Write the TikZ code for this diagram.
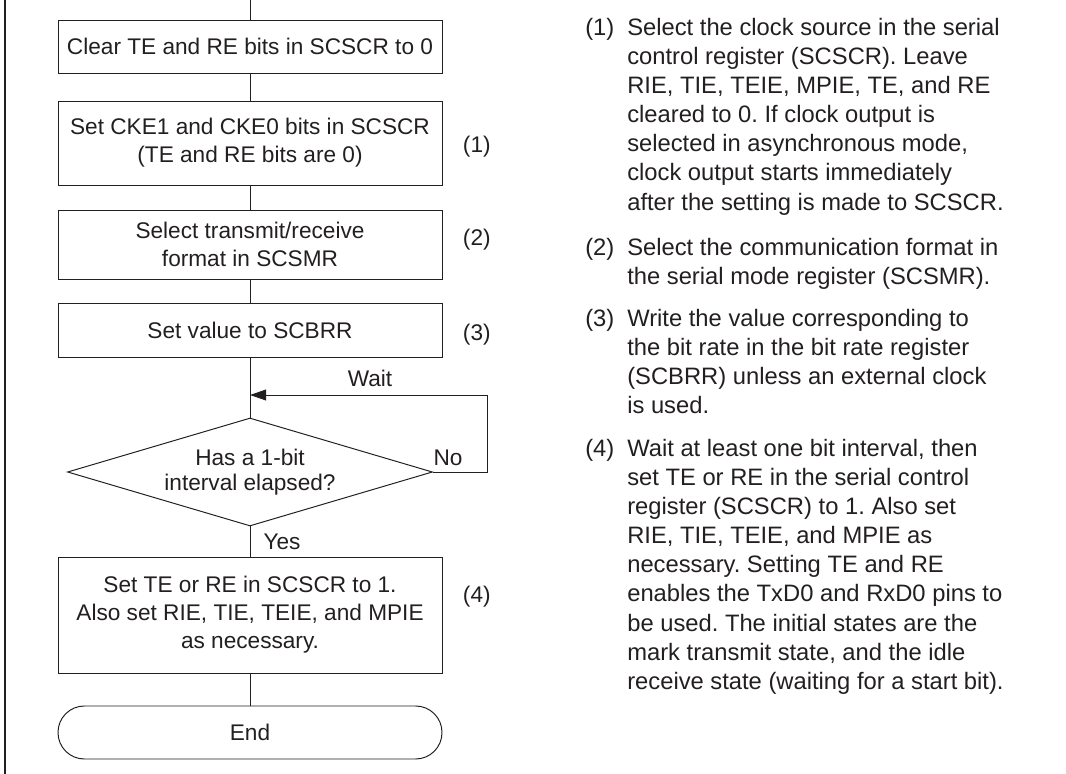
\documentclass[tikz,border=0pt]{standalone}
\usepackage{fontspec}
\setmainfont{Liberation Sans}
\usetikzlibrary{arrows.meta,shapes.geometric}
\definecolor{ink}{RGB}{35,31,32}
\frenchspacing

\begin{document}
\begin{tikzpicture}[
  >={Triangle[length=0.4cm,width=0.27cm]},
  boxfont/.style={font=\fontsize{16.1}{19.9}\selectfont,text=ink},
  proc/.style={rectangle,draw=ink,line width=0.7pt,minimum width=9.6cm,
               inner sep=0pt,align=center,boxfont},
  test/.style={diamond,draw=ink,line width=0.7pt,minimum width=9.125cm,
               minimum height=2.7cm,aspect=3.38,inner sep=0pt,align=center,
               boxfont,font=\fontsize{16.1}{18}\selectfont},
  term/.style={proc,rounded corners=0.66cm},
  flow/.style={draw=ink,line width=0.7pt},
  lbl/.style={boxfont,inner sep=0pt},
  tag/.style={boxfont,inner sep=0pt},
  note/.style={font=\fontsize{16.9}{20.7}\selectfont,text=ink,inner sep=0pt,
               align=left,anchor=north west}
]
\useasboundingbox (0,0) rectangle (26.65,-19.35);
% frame edge on the left
\draw[ink,line width=1.6pt] (0.125,0.1) -- (0.125,-19.45);

% Flow chart, one step under the other on x = 6.25
\coordinate (top) at (6.25,0);
\node[proc,minimum height=1.325cm] (clr) at (6.25,-1.1625) {Clear TE and RE bits in SCSCR to 0};
\node[proc,minimum height=2.1cm]   (cke) at (6.25,-3.575) {Set CKE1 and CKE0 bits in SCSCR\\(TE and RE bits are 0)};
\node[proc,minimum height=1.725cm] (fmt) at (6.25,-6.1125) {Select transmit/receive\\format in SCSMR};
\node[proc,minimum height=1.35cm]  (brr) at (6.25,-8.25) {Set value to SCBRR};
\node[test]                        (chk) at (6.25,-11.8) {Has a 1-bit\\interval elapsed?};
\node[proc,minimum height=2.9cm]   (ena) at (6.25,-15.375) {Set TE or RE in SCSCR to 1.\\Also set RIE, TIE, TEIE, and MPIE\\as necessary.};
\node[term,minimum height=1.325cm] (fin) at (6.25,-18.3125) {End};
\coordinate (ret)  at (6.25,-9.875);
\coordinate (loop) at (12.175,-9.875);

\draw[flow] (top) -- (clr) -- (cke) -- (fmt) -- (brr) -- (chk) -- (ena) -- (fin);
% the No branch comes back above the test
\draw[flow,->] (chk.east) -| (loop) -- (ret);
\node[lbl] (wait) at (9.25,-9.45)  {Wait};
\node[lbl] (no)   at (11.2,-11.45) {No};
\node[lbl] (yes)  at (7.05,-13.55) {Yes};

\node[tag] (t1) at (11.92,-3.675) {(1)};
\node[tag] (t2) at (11.92,-6.0)   {(2)};
\node[tag] (t3) at (11.92,-8.375) {(3)};
\node[tag] (t4) at (11.92,-14.925) {(4)};

% Notes on the right (tops of the first lines)
\node[note] (n1) at (14.625,-0.448) {(1)};
\node[note] (d1) at (15.675,-0.448) {Select the clock source in the serial\\control register (SCSCR). Leave\\RIE, TIE, TEIE, MPIE, TE, and RE\\cleared to 0. If clock output is\\selected in asynchronous mode,\\clock output starts immediately\\after the setting is made to SCSCR.};
\node[note] (n2) at (14.625,-5.948) {(2)};
\node[note] (d2) at (15.675,-5.948) {Select the communication format in\\the serial mode register (SCSMR).};
\node[note] (n3) at (14.625,-7.723) {(3)};
\node[note] (d3) at (15.675,-7.723) {Write the value corresponding to\\the bit rate in the bit rate register\\(SCBRR) unless an external clock\\is used.};
\node[note] (n4) at (14.625,-10.973) {(4)};
\node[note] (d4) at (15.675,-10.973) {Wait at least one bit interval, then\\set TE or RE in the serial control\\register (SCSCR) to 1. Also set\\RIE, TIE, TEIE, and MPIE as\\necessary. Setting TE and RE\\enables the TxD0 and RxD0 pins to\\be used. The initial states are the\\mark transmit state, and the idle\\receive state (waiting for a start bit).};
\end{tikzpicture}
\end{document}
